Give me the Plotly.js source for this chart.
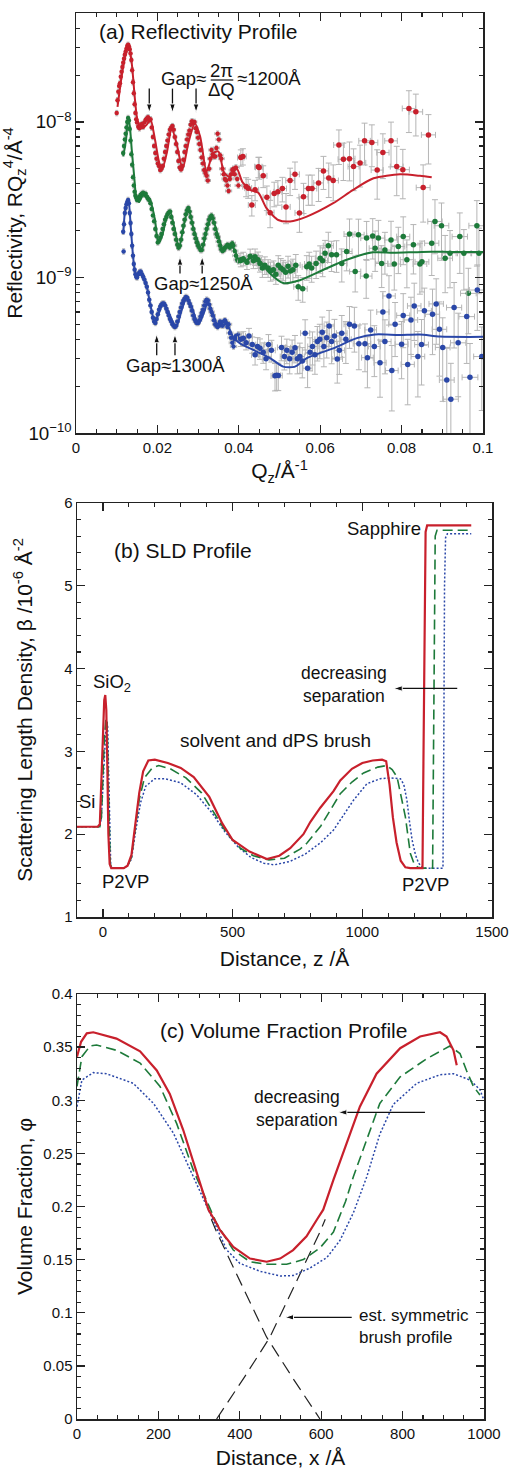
<!DOCTYPE html>
<html><head><meta charset="utf-8">
<script src="https://cdn.plot.ly/plotly-3.0.1.min.js"></script>
<style>html,body{margin:0;padding:0;background:#fff}#plot{width:515px;height:1475px}</style>
</head><body><div id="plot"></div>
<script>
// ---------- Panel (a): reflectivity, values in units of 1e-9 ----------
const redDenseQ = [.0100,.0102,.0104,.0106,.0108,.0110,.0112,.0114,.0116,.0118,
.0120,.0122,.0124,.0126,.0128,.0130,.0132,.0134,.0136,.0138,
.0140,.0142,.0144,.0146,.0148,.0150,.0153,.0156,.0159,.0162,
.0165,.0168,.0171,.0174,.0177,.0180,.0183,.0186,.0189,.0192,
.0195,.0198,.0201,.0204,.0207,.0210,.0213,.0216,.0219,.0222,
.0225,.0228,.0231,.0234,.0237,.0240,.0243,.0246,.0249,.0252,
.0255,.0258,.0261,.0264,.0267,.0270,.0273,.0276,.0279,.0282,
.0285,.0288,.0291,.0294,.0297,.0300,.0303,.0306,.0309,.0312,
.0315,.0318,.0321,.0324,.0327,.0330,.0333,.0336,.0339,.0342,
.0345,.0348,.0351,.0354,.0357,.0360,.0363,.0366,.0369,.0372,
.0375,.0378,.0381,.0384,.0387,.0390,.0393,.0396,.0399];
const redDenseR = [11.4,13.8,15.6,17.0,17.7,19.5,21.0,22.5,24.0,25.5,
27.0,28.2,29.5,30.8,31.3,30.5,29.3,27.5,25.0,21.5,
18.0,15.3,13.0,11.4,10.4,9.9,9.3,9.1,9.5,9.7,
9.3,9.9,10.3,10.5,10.7,10.2,10.4,9.2,8.0,7.0,
6.3,5.8,5.4,5.2,4.9,5.0,5.2,5.8,6.4,7.0,
7.6,8.3,8.9,9.2,9.4,8.9,8.0,7.2,6.4,5.6,
5.1,4.95,5.2,5.7,6.4,7.0,7.7,8.3,8.8,9.6,
10.1,9.8,10.0,9.1,8.6,7.9,7.2,6.6,5.9,5.4,
4.9,4.7,4.5,4.2,5.0,5.8,6.6,6.2,6.0,6.0,
6.8,8.4,7.7,6.1,5.8,5.0,4.6,4.3,4.2,3.9,
3.6,4.3,4.6,4.9,5.0,4.6,5.1,4.3,3.9];
const redSparseQ = [.0405,.0410,.0418,.0423,.0432,.0440,.0448,.0450,.0460,.0469,.0477,.0487,.0496,.0507,.0516,.0526,.0538,.0549,.0559,.0571,.0580,.0596,.0608,.0621,.0632,.0646,.0657,.0672,.0682,.0698,.0709,.0727,.0740,.0754,.0774,.0788,.0803,.0818,.0835,.0853,.0866];
const redSparseR = [5.9,6.0,3.84,3.75,2.92,3.66,5.15,5.1,4.5,3.28,2.61,3.47,3.55,3.73,2.84,4.2,4.6,2.6,3.3,3.73,3.73,4.05,4.84,4.35,4.2,7.1,5.75,5.8,5.16,5.45,7.55,7.36,4.9,6.35,7.55,5.16,4.93,12.2,11.6,3.78,8.25];
const redSparseErrPct = [12,12,14,14,15,15,15,16,16,18,20,18,18,18,22,20,20,25,22,22,22,24,24,25,26,25,27,28,30,30,30,30,35,32,32,35,35,30,30,40,35];
const redFitQ = [.0102,.0112,.0120,.0129,.0137,.0145,.0151,.0161,.0174,.0183,.0194,.0205,.0212,.0223,.0235,.0247,.0262,.0276,.0292,.0305,.0321,.0337,.0350,.0364,.0377,.0395,.0409,.0428,.0448,.0468,.0497,.0526,.0567,.0632,.0681,.0731,.0796,.0845,.0874];
const redFitR = [12.5,19.5,26.3,31.3,23.8,13.8,10.3,9.1,9.6,10.4,7.7,5.4,5.0,6.3,9.1,7.3,5.0,7.3,9.8,8.05,4.8,6.3,6.45,4.7,4.45,5.0,4.1,3.66,3.5,2.79,2.34,2.29,2.46,3.0,3.66,4.34,4.6,4.5,4.4];

const greenDenseQ = [.0116,.0118,.0120,.0122,.0124,.0126,.0128,.0130,.0132,.0134,
.0136,.0138,.0140,.0142,.0144,.0146,.0148,.0150,.0153,.0156,
.0159,.0162,.0165,.0168,.0171,.0174,.0177,.0180,.0183,.0186,
.0189,.0192,.0195,.0198,.0201,.0204,.0207,.0210,.0213,.0216,
.0219,.0222,.0225,.0228,.0231,.0234,.0237,.0240,.0243,.0246,
.0249,.0252,.0255,.0258,.0261,.0264,.0267,.0270,.0273,.0276,
.0279,.0282,.0285,.0288,.0291,.0294,.0297,.0300,.0303,.0306,
.0309,.0312,.0315,.0318,.0321,.0324,.0327,.0330,.0333,.0336,
.0339,.0342,.0345,.0348,.0351,.0354,.0357,.0360,.0363,.0366,
.0369,.0372,.0375,.0378,.0381,.0384,.0387,.0390,.0393,.0396,.0399];
const greenDenseR = [6.3,7.0,7.7,8.4,9.2,10.0,10.6,10.2,9.0,7.6,
6.2,5.3,4.4,3.9,3.55,3.35,3.25,3.15,3.2,3.3,
3.4,3.45,3.5,3.4,3.45,3.3,3.2,3.15,3.0,2.75,
2.5,2.3,2.05,1.85,1.68,1.72,1.8,1.9,2.05,2.2,
2.35,2.45,2.55,2.62,2.65,2.45,2.25,2.05,1.9,1.75,
1.62,1.55,1.6,1.75,1.95,2.15,2.35,2.55,2.7,2.8,
2.65,2.45,2.25,2.05,1.9,1.78,1.68,1.6,1.55,1.5,
1.5,1.62,1.78,1.9,2.05,2.2,2.35,2.45,2.5,2.4,
2.25,2.05,1.9,1.82,1.7,1.6,1.52,1.48,1.5,1.55,
1.58,1.62,1.6,1.55,1.62,1.66,1.6,1.48,1.38,1.3,1.27];
const greenSparseQ = [.0405,.0411,.0420,.0428,.0436,.0440,.0447,.0452,.0458,.0464,.0472,.0478,.0485,.0491,.0497,.0503,.0509,.0515,.0521,.0527,.0533,.0540,.0546,.0557,.0567,.0573,.0579,.0590,.0600,.0606,.0612,.0620,.0628,.0640,.0653,.0665,.0672,.0686,.0694,.0713,.0714,.0729,.0735,.0743,.0751,.0759,.0774,.0782,.0792,.0804,.0813,.0829,.0845,.0850,.0874,.0882,.0898,.0907,.0919,.0943,.0953,.0964,.0985,.0990];
const greenSparseR = [1.3,1.32,1.25,1.37,1.28,1.36,1.3,1.23,1.15,1.2,1.15,1.1,1.12,1.05,1.2,1.15,1.12,1.08,1.18,1.1,1.12,1.2,0.87,0.845,1.17,1.22,1.15,1.23,1.33,1.28,1.43,1.6,1.4,1.4,1.23,1.47,1.9,1.09,1.88,1.02,1.79,1.85,1.54,1.79,1.23,1.5,1.74,1.22,1.58,1.83,1.3,1.62,1.22,1.26,1.66,2.29,2.15,1.33,1.43,1.83,1.43,0.79,2.15,1.43];
const greenSparseErrPct = [10,10,10,11,11,12,12,12,13,13,13,14,14,14,15,15,15,16,16,16,17,17,18,18,18,19,19,20,20,21,21,22,22,23,24,25,25,26,26,28,28,29,29,30,30,30,32,32,33,34,34,35,36,36,38,38,40,40,40,42,42,45,45,45];
const greenFitQ = [.0116,.0123,.0128,.0132,.0137,.0143,.0148,.0155,.0165,.0172,.0182,.0194,.0202,.0211,.0223,.0231,.0243,.0253,.0264,.0276,.0288,.0301,.0309,.0321,.0333,.0350,.0362,.0370,.0380,.0390,.0403,.0420,.0440,.0460,.0477,.0509,.0550,.0608,.0665,.0730,.0780,.0850,.0920,.1000];
const greenFitR = [6.0,7.7,10.5,9.5,6.6,4.45,3.3,3.05,3.4,3.4,3.15,2.35,1.68,1.83,2.46,2.65,2.02,1.54,2.1,2.8,2.1,1.66,1.5,2.0,2.46,1.83,1.5,1.55,1.6,1.5,1.25,1.3,1.36,1.2,1.06,0.92,0.96,1.12,1.3,1.45,1.44,1.46,1.46,1.46];

const blueDenseQ = [.0116,.0117,.0118,.0120,.0122,.0124,.0126,.0128,.0130,.0132,
.0134,.0136,.0138,.0140,.0142,.0144,.0146,.0148,.0150,.0153,
.0156,.0159,.0162,.0165,.0168,.0171,.0174,.0177,.0180,.0183,
.0186,.0189,.0192,.0195,.0198,.0201,.0204,.0207,.0210,.0213,
.0216,.0219,.0222,.0225,.0228,.0231,.0234,.0237,.0240,.0243,
.0246,.0249,.0252,.0255,.0258,.0261,.0264,.0267,.0270,.0273,
.0276,.0279,.0282,.0285,.0288,.0291,.0294,.0297,.0300,.0303,
.0306,.0309,.0312,.0315,.0318,.0321,.0324,.0327,.0330,.0333,
.0336,.0339,.0342,.0345,.0348,.0351,.0354,.0357,.0360,.0363,
.0366,.0369,.0372,.0375,.0378,.0381,.0384,.0387,.0390,.0393,.0396,.0399];
const blueDenseR = [1.97,1.47,2.2,2.6,2.8,2.95,3.05,3.15,3.0,2.6,
2.24,1.9,1.6,1.38,1.22,1.12,1.05,1.01,1.0,1.05,
1.08,1.09,1.05,1.01,0.97,0.92,0.87,0.8,0.72,0.66,
0.6,0.55,0.52,0.51,0.54,0.58,0.62,0.65,0.67,0.68,
0.68,0.66,0.63,0.6,0.57,0.54,0.52,0.5,0.49,0.48,
0.49,0.52,0.56,0.6,0.64,0.68,0.71,0.73,0.75,0.74,
0.71,0.68,0.65,0.61,0.57,0.54,0.52,0.51,0.51,0.53,
0.56,0.59,0.62,0.66,0.7,0.72,0.71,0.67,0.63,0.6,
0.57,0.53,0.5,0.49,0.48,0.5,0.52,0.5,0.49,0.52,
0.53,0.51,0.48,0.5,0.44,0.41,0.38,0.36,0.4,0.42,0.41,0.43];
const blueSparseQ = [.0405,.0411,.0418,.0425,.0433,.0440,.0446,.0452,.0460,.0467,.0473,.0480,.0489,.0493,.0497,.0505,.0512,.0518,.0525,.0531,.0538,.0544,.0550,.0556,.0563,.0569,.0575,.0581,.0587,.0593,.0599,.0605,.0609,.0616,.0622,.0628,.0635,.0642,.0647,.0653,.0663,.0672,.0684,.0695,.0710,.0716,.0724,.0733,.0747,.0754,.0759,.0769,.0776,.0784,.0800,.0804,.0815,.0823,.0831,.0840,.0849,.0856,.0876,.0885,.0893,.0901,.0911,.0921,.0929,.0939,.0960,.0968,.0986,.0997];
const blueSparseR = [0.40,0.407,0.38,0.42,0.37,0.318,0.36,0.35,0.33,0.30,0.37,0.34,0.233,0.235,0.234,0.355,0.31,0.34,0.30,0.33,0.353,0.30,0.31,0.29,0.438,0.261,0.33,0.36,0.318,0.387,0.40,0.445,0.36,0.41,0.487,0.387,0.42,0.299,0.34,0.438,0.40,0.50,0.487,0.375,0.375,0.305,0.46,0.36,0.283,0.60,0.387,0.76,0.252,0.50,0.372,0.57,0.276,0.533,0.656,0.31,0.37,0.61,0.58,0.676,0.464,0.355,0.219,0.165,0.64,0.38,0.56,0.228,0.83,0.31];
const blueSparseErrPct = [10,10,10,12,12,14,14,15,15,15,16,16,20,20,20,18,18,18,20,20,20,20,22,22,22,25,24,24,25,25,25,25,26,26,26,28,28,30,30,30,30,30,32,32,34,36,34,36,40,35,38,35,45,38,40,38,45,40,40,45,45,40,45,45,50,55,60,70,45,55,50,65,45,55];
const blueFitQ = [.0116,.0120,.0125,.0129,.0134,.0138,.0143,.0149,.0157,.0165,.0174,.0182,.0194,.0202,.0215,.0227,.0246,.0260,.0272,.0284,.0301,.0317,.0323,.0337,.0350,.0370,.0387,.0403,.0444,.0477,.0509,.0538,.0567,.0632,.0690,.0735,.0794,.0845,.0894,.1000];
const blueFitR = [1.9,2.6,3.0,3.1,2.2,1.6,1.17,1.01,1.07,1.0,0.87,0.68,0.51,0.58,0.68,0.6,0.48,0.62,0.74,0.65,0.5,0.62,0.7,0.58,0.48,0.5,0.41,0.377,0.334,0.303,0.267,0.267,0.303,0.35,0.407,0.43,0.427,0.43,0.417,0.415];

// Gap arrows in panel (a): positions (Q) and log10 of tail / tip heights
const redArrowQ = [0.0180, 0.0237, 0.0295];
const redArrowLog = [-7.786, -7.940];     // [tail, tip]
const greenArrowQ = [0.02555, 0.0310];
const greenArrowLog = [-8.975, -8.866];
const blueArrowQ = [0.01983, 0.02432];
const blueArrowLog = [-9.50, -9.365];

// ---------- Panel (b): SLD profiles ----------
const redSldZ = [-100,-20,-12,-6,0,5,9,13,17,21,26,32,80,95,110,125,140,155,175,200,250,300,350,410,460,500,565,632,680,722,773,800,838,889,915,960,1000,1040,1076,1092,1105,1118,1132,1148,1166,1185,1232,1236,1240,1244,1250,1420];
const redSldB = [2.09,2.09,2.12,2.6,3.3,3.62,3.68,3.5,2.8,2.0,1.64,1.59,1.59,1.62,1.75,2.15,2.5,2.76,2.89,2.90,2.86,2.80,2.69,2.45,2.13,1.93,1.79,1.70,1.74,1.83,2.0,2.15,2.32,2.52,2.65,2.79,2.86,2.89,2.90,2.88,2.6,2.2,1.9,1.68,1.60,1.59,1.59,3.0,5.0,5.65,5.73,5.73];
const greenSldZ = [-100,-12,-6,0,6,12,16,20,24,28,33,80,95,110,125,140,160,190,215,260,320,380,430,480,530,580,640,700,760,786,840,880,915,960,1005,1060,1095,1115,1134,1150,1166,1185,1200,1215,1230,1271,1274,1277,1281,1288,1420];
const greenSldB = [2.09,2.09,2.2,2.7,3.2,3.40,3.35,2.7,2.0,1.65,1.59,1.59,1.62,1.72,2.08,2.42,2.68,2.80,2.83,2.79,2.68,2.50,2.25,2.0,1.83,1.74,1.69,1.71,1.82,1.89,2.1,2.3,2.49,2.63,2.74,2.81,2.83,2.78,2.69,2.45,2.21,1.77,1.64,1.60,1.59,1.59,3.0,5.0,5.6,5.67,5.67];
const blueSldZ = [-100,-12,-6,0,7,13,18,22,26,30,35,80,95,110,125,145,165,200,240,300,360,420,470,520,570,620,660,720,780,840,889,930,966,1018,1069,1110,1147,1160,1172,1182,1192,1205,1217,1235,1311,1314,1317,1321,1328,1420];
const blueSldB = [2.09,2.09,2.2,2.6,3.1,3.38,3.3,2.6,1.9,1.62,1.59,1.59,1.62,1.70,2.02,2.38,2.58,2.67,2.67,2.62,2.48,2.26,2.03,1.85,1.72,1.65,1.63,1.67,1.76,1.90,2.05,2.25,2.41,2.61,2.67,2.68,2.67,2.6,2.41,2.15,1.93,1.75,1.65,1.59,1.59,3.0,5.0,5.58,5.63,5.63];
const sldArrowZ = [1366, 1121];   // [tail, tip]
const sldArrowB = 3.76;

// ---------- Panel (c): volume fraction ----------
const redVfX = [0,10,24,40,97,155,196,228,261,294,323,343,351,384,425,466,499,531,564,590,605,630,663,695,736,794,843,892,908,925,933];
const redVfY = [0.341,0.355,0.363,0.364,0.358,0.346,0.328,0.306,0.272,0.231,0.197,0.184,0.178,0.162,0.151,0.148,0.151,0.159,0.172,0.188,0.197,0.225,0.259,0.294,0.325,0.349,0.360,0.364,0.360,0.347,0.333];
const greenVfX = [0,12,32,48,97,155,204,245,286,319,343,384,425,466,515,556,597,630,660,679,712,744,794,859,916,941,957,974,990];
const greenVfY = [0.313,0.341,0.351,0.352,0.347,0.335,0.313,0.278,0.234,0.206,0.184,0.159,0.148,0.1456,0.1456,0.150,0.161,0.176,0.205,0.228,0.263,0.297,0.322,0.339,0.351,0.344,0.328,0.313,0.305];
const blueVfX = [0,12,40,72,138,188,237,286,327,368,400,450,499,531,572,614,646,679,712,744,777,835,892,925,966,990,1000];
const blueVfY = [0.294,0.319,0.326,0.325,0.316,0.297,0.269,0.228,0.194,0.159,0.1465,0.139,0.1346,0.135,0.142,0.152,0.168,0.194,0.228,0.268,0.296,0.316,0.324,0.325,0.319,0.310,0.300];
const brushDescX = [330,343,405,466,531,597];
const brushDescY = [0.188,0.176,0.126,0.077,0.038,0.0];
const brushAscX = [343,409,474,535,597,610];
const brushAscY = [0.0,0.038,0.077,0.126,0.176,0.188];
const vfSepArrowX = [855, 642], vfSepArrowY = 0.2886;
const vfBrushArrowX = [675, 511], vfBrushArrowY = 0.0957;

// ---------- styling ----------
const F = 'Liberation Sans, Arial, Helvetica, sans-serif';
const RED = '#c8202c', GREEN = '#1d7a3a', BLUE = '#2a47a8', GRAY = '#b5b5b5', INK = '#111';
const s9 = a => a.map(v => v * 1e-9);
const p10 = v => Math.pow(10, v);

function dense(q, r, col) {
  return {x: q, y: s9(r), xaxis: 'x', yaxis: 'y', type: 'scatter', mode: 'markers',
    marker: {color: col, size: 4.5},
    error_y: {type: 'percent', value: 4, color: GRAY, thickness: 1, width: 1.5},
    error_x: {type: 'percent', value: 2, color: GRAY, thickness: 1, width: 1.5},
    showlegend: false, hoverinfo: 'x+y'};
}
function sparse(q, r, pct, col) {
  const y = s9(r);
  return {x: q, y: y, xaxis: 'x', yaxis: 'y', type: 'scatter', mode: 'markers',
    marker: {color: col, size: 5.5},
    error_y: {type: 'data', array: y.map((v, i) => v * pct[i] / 100), color: GRAY, thickness: 1, width: 3},
    error_x: {type: 'percent', value: 2, color: GRAY, thickness: 1, width: 3},
    showlegend: false, hoverinfo: 'x+y'};
}
function fit(q, r, col) {
  return {x: q, y: s9(r), xaxis: 'x', yaxis: 'y', type: 'scatter', mode: 'lines',
    line: {color: col, width: 2, shape: 'spline', smoothing: 0.7}, showlegend: false};
}
function prof(x, y, col, dash, w, xa, ya) {
  return {x: x, y: y, xaxis: xa, yaxis: ya, type: 'scatter', mode: 'lines',
    line: {color: col, width: w, dash: dash}, showlegend: false};
}
function arrow(x, y, xa, ya) {
  return {x: x, y: y, xaxis: xa, yaxis: ya, type: 'scatter', mode: 'lines+markers',
    line: {color: INK, width: 1.3},
    marker: {symbol: ['circle', 'arrow'], size: [1, 9], opacity: [0, 1], color: INK, angleref: 'previous'},
    showlegend: false, hoverinfo: 'skip'};
}

const traces = [
  dense(redDenseQ, redDenseR, RED), sparse(redSparseQ, redSparseR, redSparseErrPct, RED),
  dense(greenDenseQ, greenDenseR, GREEN), sparse(greenSparseQ, greenSparseR, greenSparseErrPct, GREEN),
  dense(blueDenseQ, blueDenseR, BLUE), sparse(blueSparseQ, blueSparseR, blueSparseErrPct, BLUE),
  fit(redFitQ, redFitR, RED), fit(greenFitQ, greenFitR, GREEN), fit(blueFitQ, blueFitR, BLUE),
  prof(blueSldZ, blueSldB, BLUE, '2px,2px', 1.5, 'x2', 'y2'),
  prof(greenSldZ, greenSldB, GREEN, '10px,5px', 1.6, 'x2', 'y2'),
  prof(redSldZ, redSldB, RED, 'solid', 2.2, 'x2', 'y2'),
  prof(brushDescX, brushDescY, '#222', '13px,7px', 1.2, 'x3', 'y3'),
  prof(brushAscX, brushAscY, '#222', '13px,7px', 1.2, 'x3', 'y3'),
  prof(blueVfX, blueVfY, BLUE, '2px,2px', 1.5, 'x3', 'y3'),
  prof(greenVfX, greenVfY, GREEN, '10px,5px', 1.6, 'x3', 'y3'),
  prof(redVfX, redVfY, RED, 'solid', 2.2, 'x3', 'y3')
];
redArrowQ.forEach(q => traces.push(arrow([q, q], redArrowLog.map(p10), 'x', 'y')));
greenArrowQ.forEach(q => traces.push(arrow([q, q], greenArrowLog.map(p10), 'x', 'y')));
blueArrowQ.forEach(q => traces.push(arrow([q, q], blueArrowLog.map(p10), 'x', 'y')));
traces.push(arrow(sldArrowZ, [sldArrowB, sldArrowB], 'x2', 'y2'));
traces.push(arrow(vfSepArrowX, [vfSepArrowY, vfSepArrowY], 'x3', 'y3'));
traces.push(arrow(vfBrushArrowX, [vfBrushArrowY, vfBrushArrowY], 'x3', 'y3'));

const ax = {showline: true, linecolor: '#222', linewidth: 1.5, mirror: 'ticks', ticks: 'inside',
  ticklen: 8, tickwidth: 1.3, tickcolor: '#222', showgrid: false, zeroline: false,
  tickfont: {family: F, size: 15, color: INK}};
const minor = d => ({dtick: d, ticks: 'inside', ticklen: 4, tickwidth: 1.1, tickcolor: '#222', showgrid: false});
const ttl = (t, s) => ({text: t, font: {family: F, size: 21, color: INK}, standoff: s});
const P = (px) => px / 515, Q = (py) => 1 - py / 1475;

const mid = {family: F, size: 18.5, color: INK};
const big = {family: F, size: 21, color: INK};
const txt = (xr, yr, x, y, t, f, extra) => Object.assign({xref: xr, yref: yr, x: x, y: y, text: t,
  showarrow: false, font: f}, extra || {});

const annotations = [
  txt('x', 'y', 0.0300, -7.419, '(a) Reflectivity Profile', big),
  txt('x', 'y', 0.03243, -7.7235, 'Gap≈', mid, {xanchor: 'right'}),
  txt('x', 'y', 0.0358, -7.668, '2π', mid),
  txt('x', 'y', 0.0358, -7.792, 'ΔQ', mid),
  txt('x', 'y', 0.03907, -7.7235, '≈1200Å', mid, {xanchor: 'left'}),
  txt('x', 'y', 0.03128, -9.037, 'Gap≈1250Å', mid),
  txt('x', 'y', 0.02452, -9.569, 'Gap≈1300Å', mid),

  txt('x2', 'y2', 310, 5.43, '(b) SLD Profile', big),
  txt('x2', 'y2', 1082, 5.69, 'Sapphire', mid),
  txt('x2', 'y2', 35, 3.83, 'SiO<sub>2</sub>', mid),
  txt('x2', 'y2', 928, 3.81, 'decreasing<br>separation', {family: F, size: 17.5, color: INK}),
  txt('x2', 'y2', 664, 3.13, 'solvent and dPS brush', {family: F, size: 19, color: INK}),
  txt('x2', 'y2', -60, 2.40, 'Si', mid),
  txt('x2', 'y2', 87, 1.43, 'P2VP', mid),
  txt('x2', 'y2', 1242, 1.39, 'P2VP', mid),

  txt('x3', 'y3', 507, 0.366, '(c) Volume Fraction Profile', big),
  txt('x3', 'y3', 540, 0.2924, 'decreasing<br>separation', {family: F, size: 17.5, color: INK}),
  txt('x3', 'y3', 687, 0.0872, 'est. symmetric<br>brush profile', {family: F, size: 17, color: INK}, {xanchor: 'left', align: 'left'})
];

const layout = {
  width: 515, height: 1475, margin: {l: 0, r: 0, t: 0, b: 0},
  paper_bgcolor: '#fff', plot_bgcolor: '#fff', font: {family: F, color: INK},
  showlegend: false,
  xaxis: Object.assign({}, ax, {domain: [P(76), P(483)], anchor: 'y', range: [0, 0.1], tick0: 0, dtick: 0.02,
    minor: minor(0.005), title: ttl('Q<sub>z</sub>/Å<sup>-1</sup>', 9)}),
  yaxis: Object.assign({}, ax, {domain: [Q(433), Q(13)], anchor: 'x', type: 'log', range: [-10, -7.3], dtick: 1,
    exponentformat: 'power', showexponent: 'all', minor: minor('D1'),
    title: ttl('Reflectivity, RQ<sub>z</sub><sup>4</sup>/Å<sup>-4</sup>', 3)}),
  xaxis2: Object.assign({}, ax, {domain: [P(77), P(492)], anchor: 'y2', range: [-100, 1500], tick0: 0, dtick: 500,
    minor: minor(100), title: ttl('Distance, z /Å', 13)}),
  yaxis2: Object.assign({}, ax, {domain: [Q(917), Q(503)], anchor: 'x2', range: [1, 6], tick0: 0, dtick: 1,
    minor: minor(0.2), title: ttl('Scattering Length Density, β /10<sup>-6</sup> Å<sup>-2</sup>', 26)}),
  xaxis3: Object.assign({}, ax, {domain: [P(77), P(484)], anchor: 'y3', range: [0, 1000], tick0: 0, dtick: 200,
    minor: minor(50), title: ttl('Distance, x /Å', 10)}),
  yaxis3: Object.assign({}, ax, {domain: [Q(1419), Q(994)], anchor: 'x3', range: [0, 0.4], tick0: 0, dtick: 0.05,
    minor: minor(0.01), title: ttl('Volume Fraction, φ', 5)}),
  annotations: annotations,
  shapes: [{type: 'line', xref: 'paper', yref: 'paper', x0: P(210.7), x1: P(233.3), y0: Q(80), y1: Q(80),
    line: {color: INK, width: 1.2}}]
};

Plotly.newPlot('plot', traces, layout, {staticPlot: true, displayModeBar: false});
</script></body></html>
